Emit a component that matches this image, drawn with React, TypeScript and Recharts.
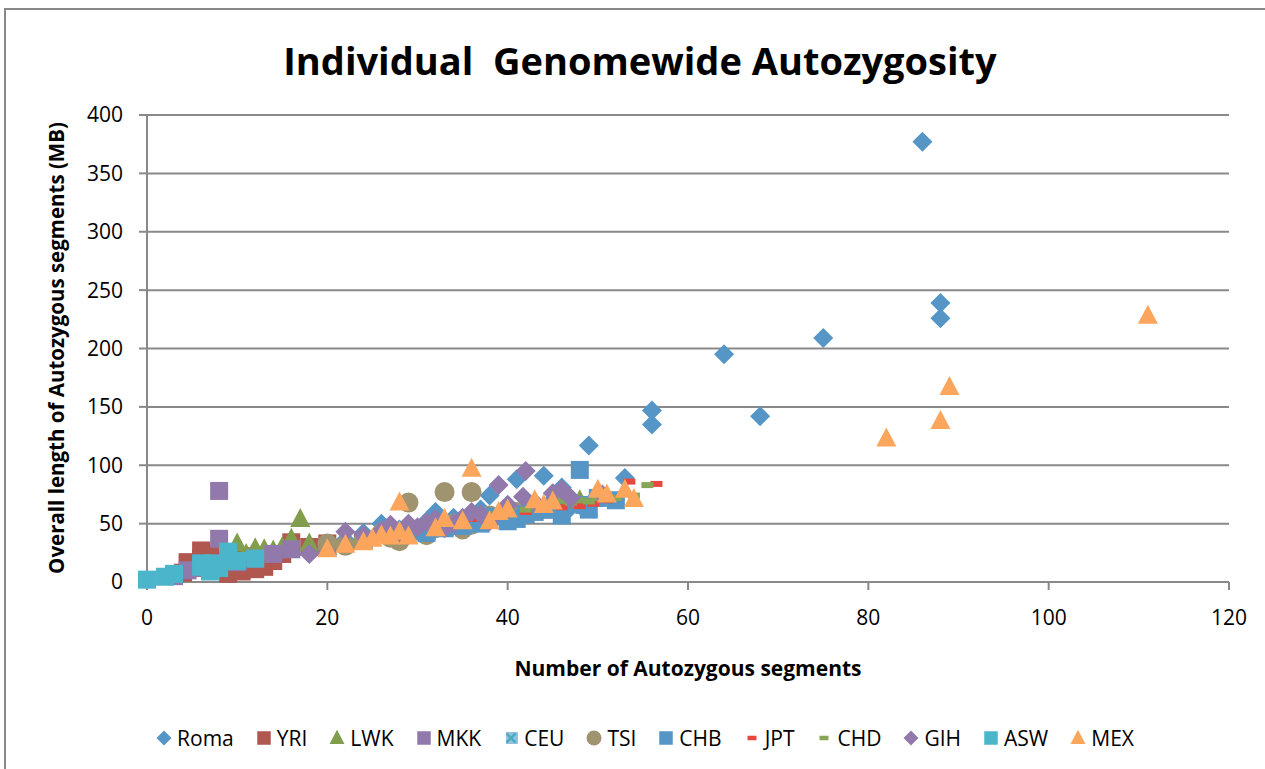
import React from 'react';
import { ScatterChart, Scatter, XAxis, YAxis, CartesianGrid, Legend } from 'recharts';

// values: [segments, length MB]
const romaPoints = [
  [86, 377], [88, 239], [88, 226], [75, 209], [64, 195], [68, 142], [56, 147], [56, 135],
  [49, 117], [53, 89], [44, 91], [41, 88], [46, 81], [38, 74], [26, 50], [32, 60], [30, 46],
  [34, 55], [36, 54], [37, 62], [40, 66], [42, 61], [45, 70], [47, 64], [24, 42], [22, 36],
  [28, 45], [33, 50], [39, 58], [43, 65], [35, 48], [48, 66], [50, 74], [31, 52],
];
const yriPoints = [
  [4, 8], [4.5, 17], [5, 12], [6, 27], [6, 20], [7, 10], [8, 14], [9, 7], [9, 18], [10.5, 9],
  [11, 16], [12, 11], [12, 22], [13, 13], [13.5, 20], [16, 34], [14, 18], [15, 24], [7, 24],
  [10, 22], [18, 30], [20, 33], [24, 36],
];
const lwkPoints = [
  [10, 33], [11, 24], [12, 29], [13, 28], [14, 27], [15, 30], [16, 37], [17, 54], [18, 33],
  [20, 30], [22, 35], [24, 38], [26, 40], [28, 42], [30, 44], [32, 47], [34, 50], [44, 64],
  [46, 68], [48, 70],
];
const mkkPoints = [
  [8, 78], [8, 37], [4.5, 10], [10, 17], [16, 28], [3, 5], [6, 12], [12, 20], [14, 24], [20, 30],
  [24, 36], [28, 40], [30, 44], [33, 47], [36, 52], [40, 56], [44, 62],
];
const ceuPoints = [
  [26, 40], [30, 46], [32, 48], [35, 52], [38, 55], [40, 58], [42, 60], [28, 42], [45, 66], [47, 68],
];
const tsiPoints = [
  [33, 77], [36, 77], [29, 68], [28, 35], [36, 49], [20, 33], [22, 31], [24, 36], [30, 44],
  [34, 50], [38, 57], [26, 42], [32, 46], [27, 38], [31, 40], [35, 45], [37, 52], [41, 60],
];
const chbPoints = [
  [48, 96], [49, 62], [46, 57], [48.5, 66], [40, 52], [41, 54], [42, 58], [44, 62], [31, 42],
  [35, 48], [37, 50], [38, 56], [30, 44], [43, 60], [33, 46], [45, 64], [50, 72], [52, 70],
];
const jptPoints = [
  [56.5, 84], [53.5, 86], [49.5, 67], [48, 65], [44, 62], [42, 60], [38, 57], [40, 58],
  [46, 64], [36, 54], [51, 70], [34, 52],
];
const chdPoints = [
  [55.5, 83], [50, 72], [47, 68], [45, 66], [42, 62], [40, 60], [38, 58], [35, 54], [46, 70],
  [44, 66], [48, 70], [52, 72], [54, 74], [49, 69],
];
const gihPoints = [
  [18, 24], [22, 43], [24, 40], [26, 44], [27, 49], [28, 42], [29, 50], [30, 47], [31, 51],
  [33, 46], [35, 55], [37, 58], [38, 52], [39, 83], [42, 95], [41.7, 73], [45, 76], [46, 79],
  [50.5, 75], [34, 50], [36, 60], [40, 66], [43, 68], [32, 54], [47, 72],
];
const aswPoints = [
  [0, 2], [2, 4.5], [3, 7], [6, 13], [7.3, 16], [9, 20], [9, 26], [12, 20], [8, 12], [7, 9],
  [10, 18], [6, 16],
];
const mexPoints = [
  [36, 97], [82, 123], [88, 138], [89, 167], [111, 228], [28, 68], [20, 28], [22, 32], [25, 37],
  [26, 40], [27, 39], [28, 43], [29, 39], [32, 46], [33, 54], [35, 52], [38, 52], [39, 60],
  [40, 62], [43, 70], [44, 66], [45, 69], [50, 79], [51, 75], [53, 79], [54, 71], [24, 34],
];

const xTicks = [0, 20, 40, 60, 80, 100, 120];
const yTicks = [0, 50, 100, 150, 200, 250, 300, 350, 400];

const series = [
  { name: 'Roma', points: romaPoints, color: '#5596C6', marker: 'diamond' },
  { name: 'YRI', points: yriPoints, color: '#B0574F', marker: 'square' },
  { name: 'LWK', points: lwkPoints, color: '#819E4C', marker: 'triangle' },
  { name: 'MKK', points: mkkPoints, color: '#9279AC', marker: 'square' },
  { name: 'CEU', points: ceuPoints, color: '#4BACC6', marker: 'x' },
  { name: 'TSI', points: tsiPoints, color: '#A09470', marker: 'circle' },
  { name: 'CHB', points: chbPoints, color: '#5596C6', marker: 'square' },
  { name: 'JPT', points: jptPoints, color: '#E8473F', marker: 'dash' },
  { name: 'CHD', points: chdPoints, color: '#86A656', marker: 'dash' },
  { name: 'GIH', points: gihPoints, color: '#9279AC', marker: 'diamond' },
  { name: 'ASW', points: aswPoints, color: '#4BB5CB', marker: 'square' },
  { name: 'MEX', points: mexPoints, color: '#FBA65C', marker: 'triangle' },
];

const FONT = '"Open Sans", sans-serif';
const GRAY = '#898989';

const drawMarker = (marker: string, color: string, cx: number, cy: number, s = 1) => {
  switch (marker) {
    case 'diamond':
      return <polygon points={`${cx},${cy - 10 * s} ${cx + 10 * s},${cy} ${cx},${cy + 10 * s} ${cx - 10 * s},${cy}`} fill={color} />;
    case 'square':
      return <rect x={cx - 9 * s} y={cy - 9 * s} width={18 * s} height={18 * s} fill={color} />;
    case 'triangle':
      return <polygon points={`${cx},${cy - 11 * s} ${cx + 10 * s},${cy + 8 * s} ${cx - 10 * s},${cy + 8 * s}`} fill={color} />;
    case 'circle':
      return <circle cx={cx} cy={cy} r={10 * s} fill={color} />;
    case 'dash':
      return <rect x={cx - 6 * s} y={cy - 3 * s} width={12 * s} height={6 * s} fill={color} />;
    case 'x':
      return (
        <g stroke={color} strokeWidth={2.5}>
          <line x1={cx - 6 * s} y1={cy - 6 * s} x2={cx + 6 * s} y2={cy + 6 * s} />
          <line x1={cx - 6 * s} y1={cy + 6 * s} x2={cx + 6 * s} y2={cy - 6 * s} />
        </g>
      );
    default:
      return null;
  }
};

// keep the series order (Recharts sorts legend items by name otherwise)
const renderLegend = (props: any) => {
  const names = new Set((props.payload || []).map((e: any) => e.value));
  return (
    <div style={{ display: 'flex', justifyContent: 'center', gap: 22, fontFamily: FONT, fontSize: 21, color: '#000' }}>
      {series.filter(s => names.has(s.name)).map(s => (
        <div key={s.name} style={{ display: 'flex', alignItems: 'center' }}>
          <svg width={16} height={18} style={{ marginRight: 5 }}>
            {s.marker === 'x' && <rect x={3} y={3} width={12} height={12} fill="#5596C6" opacity={0.6} />}
            {drawMarker(s.marker, s.color, 8, 9, 0.75)}
          </svg>
          <span>{s.name}</span>
        </div>
      ))}
    </div>
  );
};

export default function App() {
  return (
    <div style={{ position: 'absolute', left: 0, top: 0, width: 1265, height: 769, overflow: 'hidden', background: '#fff' }}>
      <svg width={1265} height={769} style={{ position: 'absolute', left: 0, top: 0 }}>
        <rect x={5} y={9} width={1300} height={800} fill="none" stroke={GRAY} strokeWidth={2} />
      </svg>
      <div style={{ position: 'absolute', left: 0, top: 0 }}>
        <ScatterChart width={1265} height={769} margin={{ top: 115, right: 36, bottom: 129, left: 87 }}>
          <CartesianGrid vertical={false} stroke={GRAY} strokeWidth={2} />
          <XAxis
            type="number"
            dataKey="x"
            domain={[0, 120]}
            ticks={xTicks}
            height={30}
            tick={{ fill: '#000', fontSize: 21, fontFamily: FONT }}
            tickSize={8}
            tickMargin={20}
            axisLine={{ stroke: GRAY, strokeWidth: 2 }}
            tickLine={{ stroke: GRAY, strokeWidth: 2 }}
          />
          <YAxis
            type="number"
            dataKey="y"
            domain={[0, 400]}
            ticks={yTicks}
            width={60}
            tick={{ fill: '#000', fontSize: 21, fontFamily: FONT }}
            tickSize={8}
            tickMargin={16}
            axisLine={{ stroke: GRAY, strokeWidth: 2 }}
            tickLine={{ stroke: GRAY, strokeWidth: 2 }}
          />
          <Legend
            content={renderLegend}
            wrapperStyle={{ position: 'absolute', left: 0, top: 724, width: 1290 }}
          />
          {series.map(s => (
            <Scatter
              key={s.name}
              name={s.name}
              data={s.points.map(([x, y]) => ({ x, y }))}
              fill={s.color}
              isAnimationActive={false}
              shape={(p: any) => drawMarker(s.marker, s.color, p.cx, p.cy)}
            />
          ))}
        </ScatterChart>
      </div>
      <svg width={1265} height={769} style={{ position: 'absolute', left: 0, top: 0, pointerEvents: 'none' }}>
        <text x={640} y={75} textAnchor="middle" fontFamily={FONT} fontWeight="bold" fontSize={38} style={{ whiteSpace: 'pre' }}>
          {'Individual  Genomewide Autozygosity'}
        </text>
        <text x={688} y={676} textAnchor="middle" fontFamily={FONT} fontWeight="bold" fontSize={21}>
          Number of Autozygous segments
        </text>
        <text x={64} y={348} textAnchor="middle" fontFamily={FONT} fontWeight="bold" fontSize={20.5} transform="rotate(-90 64 348)">
          Overall length of Autozygous segments (MB)
        </text>
      </svg>
    </div>
  );
}
